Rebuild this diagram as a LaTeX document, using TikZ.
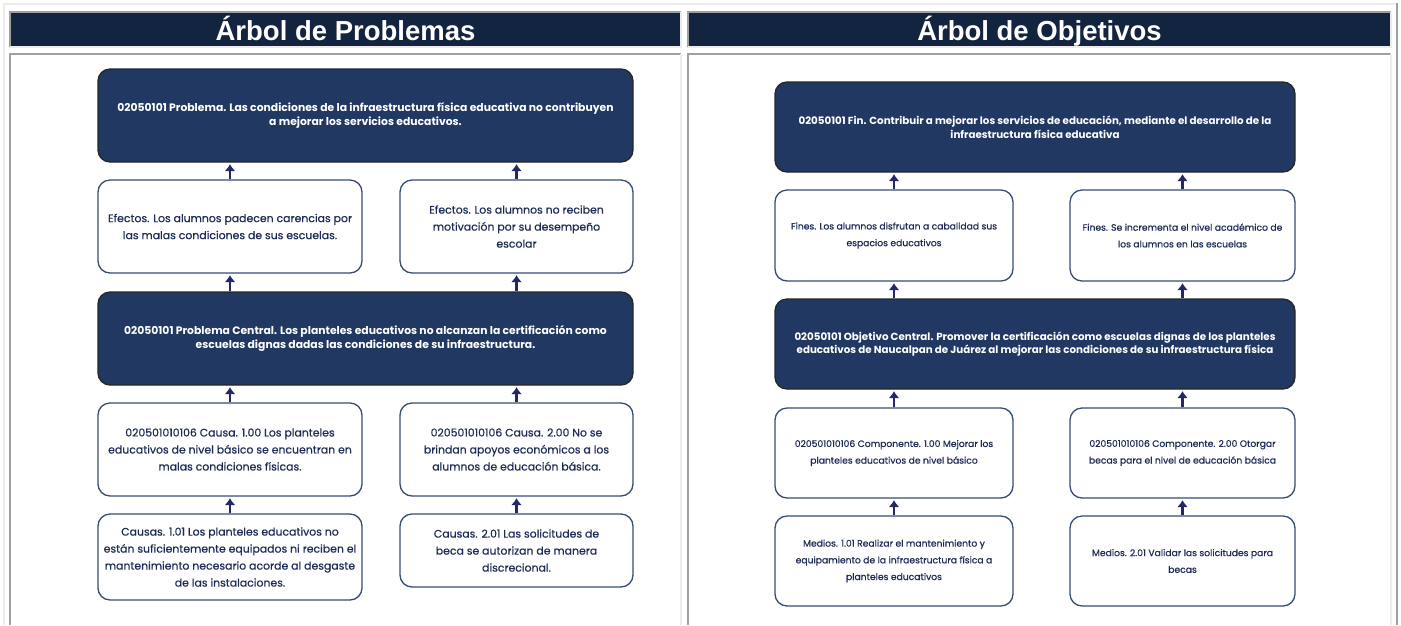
\documentclass[tikz,border=0pt]{standalone}
\usepackage{fontspec}
\setmainfont{Poppins}
\newfontfamily\medfont[FakeBold=0.5]{Poppins}
\newfontfamily\headfont{Liberation Sans}
\usetikzlibrary{arrows,arrows.meta}
\definecolor{navy}{RGB}{33,56,98}
\definecolor{headblue}{RGB}{18,36,63}
\definecolor{edgegray}{RGB}{160,160,160}
\definecolor{edgelight}{RGB}{236,236,236}
\definecolor{textblue}{RGB}{28,42,85}
\definecolor{arrowblue}{RGB}{36,40,105}

\begin{document}
\begin{tikzpicture}[x=1pt,y=-1pt,>={Latex[length=7pt,width=11pt]},
  headbar/.style={fill=headblue},
  headtext/.style={text=white,anchor=base,font=\headfont\bfseries\fontsize{27.5}{29}\selectfont},
  darkbox/.style={draw=black!85,line width=1.3pt,fill=navy,text=white,rounded corners=12pt,
    align=center,inner sep=0pt,font=\bfseries\fontsize{10.8}{14.5}\selectfont},
  lightbox/.style={draw=navy!90,line width=1.3pt,fill=white,text=textblue,rounded corners=12pt,
    align=center,inner sep=0pt,font=\medfont\fontsize{10.9}{17}\selectfont},
  smallbox/.style={lightbox,font=\medfont\fontsize{9.2}{16.7}\selectfont},
  smalldark/.style={darkbox,font=\bfseries\fontsize{10.3}{13.5}\selectfont},
  flecha/.style={->,draw=arrowblue,line width=2.6pt,shorten >=1.5pt}]
\useasboundingbox (0,0) rectangle (1401,625);
\fill[white] (0,0) rectangle (1401,625);
% outer frame
\fill[edgelight] (3,3) rectangle (1397,5);
\fill[edgelight] (3,3) rectangle (5,625);
\fill[edgegray] (1396,3) rectangle (1398,625);
% headers
\fill[headbar] (10,12) rectangle (681,47);
\fill[headbar] (688,12) rectangle (1391,47);
\draw[edgegray,line width=1.5pt] (10,47) -- (10,12) -- (681,12);
\draw[edgegray,line width=1.5pt] (688,47) -- (688,12) -- (1391,12);
\draw[edgelight,line width=1.5pt] (681,12) -- (681,47) -- (10,47);
\draw[edgelight,line width=1.5pt] (1391,12) -- (1391,47) -- (688,47);
\node[headtext] (hp) at (345.5,40.5) {Árbol de Problemas};
\node[headtext] (ho) at (1039.5,40.5) {Árbol de Objetivos};
% panels
\draw[edgegray,line width=1.5pt] (10,625) -- (10,54) -- (681,54);
\draw[edgegray,line width=1.5pt] (688,625) -- (688,54) -- (1391,54);
\draw[edgelight,line width=1.5pt] (681,54) -- (681,625);
\draw[edgelight,line width=1.5pt] (1391,54) -- (1391,625);

% arbol de problemas
\node[darkbox,minimum width=535pt,minimum height=93pt] (p1) at (365.5,115.5)
  {02050101 Problema. Las condiciones de la infraestructura física educativa no contribuyen\\
   a mejorar los servicios educativos.};
\node[lightbox,minimum width=264pt,minimum height=93pt] (e1) at (230,226.5)
  {Efectos. Los alumnos padecen carencias por\\ las malas condiciones de sus escuelas.};
\node[lightbox,minimum width=233pt,minimum height=93pt] (e2) at (516.5,226.5)
  {Efectos. Los alumnos no reciben\\ motivación por su desempeño\\ escolar};
\node[darkbox,minimum width=535pt,minimum height=93pt] (p2) at (365.5,338.5)
  {02050101 Problema Central. Los planteles educativos no alcanzan la certificación como\\
   escuelas dignas dadas las condiciones de su infraestructura.};
\node[lightbox,minimum width=264pt,minimum height=93pt] (c1) at (230,449.5)
  {020501010106 Causa. 1.00 Los planteles\\ educativos de nivel básico se encuentran en\\ malas condiciones físicas.};
\node[lightbox,minimum width=233pt,minimum height=93pt] (c2) at (516.5,449.5)
  {020501010106 Causa. 2.00 No se\\ brindan apoyos económicos a los\\ alumnos de educación básica.};
\node[lightbox,minimum width=264pt,minimum height=86pt] (s1) at (230,557)
  {Causas. 1.01 Los planteles educativos no\\ están suficientemente equipados ni reciben el\\
   mantenimiento necesario acorde al desgaste\\ de las instalaciones.};
\node[lightbox,minimum width=233pt,minimum height=73pt] (s2) at (516.5,550.5)
  {Causas. 2.01 Las solicitudes de\\ beca se autorizan de manera\\ discrecional.};

% arbol de objetivos
\node[smalldark,minimum width=520pt,minimum height=90pt] (f0) at (1035,127)
  {02050101 Fin. Contribuir a mejorar los servicios de educación, mediante el desarrollo de la\\
   infraestructura física educativa};
\node[smallbox,minimum width=238pt,minimum height=91pt] (f1) at (894,235.5)
  {Fines. Los alumnos disfrutan a cabalidad sus\\ espacios educativos};
\node[smallbox,minimum width=225pt,minimum height=91pt] (f2) at (1182.5,235.5)
  {Fines. Se incrementa el nivel académico de\\ los alumnos en las escuelas};
\node[smalldark,minimum width=520pt,minimum height=90pt] (ob) at (1035,344)
  {02050101 Objetivo Central. Promover la certificación como escuelas dignas de los planteles\\
   educativos de Naucalpan de Juárez al mejorar las condiciones de su infraestructura física};
\node[smallbox,minimum width=238pt,minimum height=90pt] (k1) at (894,453)
  {020501010106 Componente. 1.00 Mejorar los\\ planteles educativos de nivel básico};
\node[smallbox,minimum width=225pt,minimum height=90pt] (k2) at (1182.5,453)
  {020501010106 Componente. 2.00 Otorgar\\ becas para el nivel de educación básica};
\node[smallbox,minimum width=238pt,minimum height=90pt] (m1) at (894,561)
  {Medios. 1.01 Realizar el mantenimiento y\\ equipamiento de la infraestructura física a\\ planteles educativos};
\node[smallbox,minimum width=225pt,minimum height=90pt] (m2) at (1182.5,561)
  {Medios. 2.01 Validar las solicitudes para\\ becas};

% flechas
\foreach \lo/\up/\col in {e1/p1/e1,e2/p1/e2,p2/e1/e1,p2/e2/e2,c1/p2/c1,c2/p2/c2,s1/c1/s1,s2/c2/s2,
  f1/f0/f1,f2/f0/f2,ob/f1/f1,ob/f2/f2,k1/ob/k1,k2/ob/k2,m1/k1/m1,m2/k2/m2}
  \draw[flecha] (\col |- \lo.north) -- (\col |- \up.south);
\end{tikzpicture}
\end{document}
